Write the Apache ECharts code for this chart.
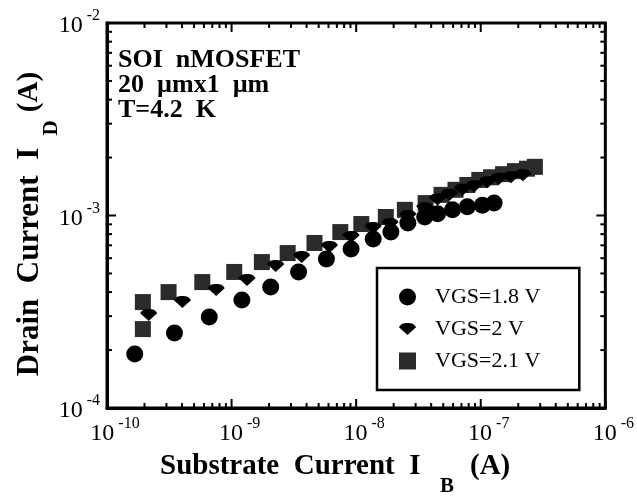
<!DOCTYPE html>
<html>
<head>
<meta charset="utf-8">
<script src="https://cdn.jsdelivr.net/npm/echarts@6/dist/echarts.min.js"></script>
<style>
  html, body { margin: 0; padding: 0; background: #fff; }
  #chart { width: 637px; height: 497px; }
</style>
</head>
<body>
<div id="chart"></div>
<script>
// VGS = 1.8 V (circles)
const ib18 = [1.67e-10, 3.48e-10, 6.62e-10, 1.21e-9, 2.06e-9, 3.45e-9, 5.77e-9, 9.1e-9, 1.37e-8, 1.90e-8, 2.60e-8, 3.55e-8, 4.5e-8, 5.93e-8, 7.8e-8, 1.03e-7, 1.28e-7];
const id18 = [1.91e-4, 2.45e-4, 2.97e-4, 3.64e-4, 4.25e-4, 5.09e-4, 5.94e-4, 6.70e-4, 7.55e-4, 8.20e-4, 9.14e-4, 9.82e-4, 1.02e-3, 1.07e-3, 1.11e-3, 1.13e-3, 1.16e-3];

// VGS = 2 V (diamonds)
const ib20 = [2.16e-10, 4.03e-10, 7.52e-10, 1.33e-9, 2.26e-9, 3.65e-9, 6.1e-9, 9.1e-9, 1.37e-8, 1.87e-8, 2.6e-8, 3.55e-8, 4.5e-8, 5.61e-8, 7.13e-8, 8.87e-8, 1.13e-7, 1.40e-7, 1.75e-7, 2.18e-7];
const id20 = [3.04e-4, 3.55e-4, 4.10e-4, 4.62e-4, 5.47e-4, 6.09e-4, 6.86e-4, 7.73e-4, 8.61e-4, 9.03e-4, 9.94e-4, 1.09e-3, 1.21e-3, 1.28e-3, 1.36e-3, 1.42e-3, 1.49e-3, 1.55e-3, 1.58e-3, 1.62e-3];

// VGS = 2.1 V (squares)
const ib21 = [1.94e-10, 1.94e-10, 3.12e-10, 5.82e-10, 1.05e-9, 1.75e-9, 2.82e-9, 4.63e-9, 7.46e-9, 1.10e-8, 1.73e-8, 2.46e-8, 3.61e-8, 4.84e-8, 6.27e-8, 7.8e-8, 9.73e-8, 1.21e-7, 1.51e-7, 1.88e-7, 2.35e-7, 2.72e-7];
const id21 = [3.55e-4, 2.57e-4, 4.00e-4, 4.51e-4, 5.09e-4, 5.73e-4, 6.38e-4, 7.20e-4, 8.20e-4, 9.03e-4, 9.82e-4, 1.07e-3, 1.16e-3, 1.28e-3, 1.36e-3, 1.44e-3, 1.53e-3, 1.58e-3, 1.64e-3, 1.70e-3, 1.75e-3, 1.79e-3];

const seriesNames = ["VGS=1.8 V", "VGS=2 V", "VGS=2.1 V"];

// axis decades (tick labels are 10^exp)
const xExp = [-10, -9, -8, -7, -6];
const yExp = [-4, -3, -2];
const minorMult = [2, 3, 4, 5, 6, 7, 8, 9];

const serif = "'Liberation Serif', 'DejaVu Serif', serif";
const diamond = "path://M0,5 C2,1 5,0 10,0 C15,0 18,1 20,5 L10,14 Z";

const pairs = (xs, ys) => xs.map((x, i) => [x, ys[i]]);

// tick marks drawn on all four sides: [x, y, kind, isMajor]
const tickData = [];
for (let i = 0; i < xExp.length; i++) {
  tickData.push([Math.pow(10, xExp[i]), 1e-4, 0, 1]);
  if (i < xExp.length - 1) {
    minorMult.forEach((m) => tickData.push([m * Math.pow(10, xExp[i]), 1e-4, 0, 0]));
  }
}
for (let i = 0; i < yExp.length; i++) {
  tickData.push([1e-10, Math.pow(10, yExp[i]), 1, 1]);
  if (i < yExp.length - 1) {
    minorMult.forEach((m) => tickData.push([1e-10, m * Math.pow(10, yExp[i]), 1, 0]));
  }
}

const expLabel = (v) => "{b|10}{s|" + Math.round(Math.log10(v)) + "}";
const labelRich = {
  b: { fontFamily: serif, fontSize: 24, color: "#000", lineHeight: 30, verticalAlign: "bottom" },
  s: { fontFamily: serif, fontSize: 16, color: "#000", lineHeight: 30, verticalAlign: "top", padding: [0, 0, 0, 4] },
};

const myChart = echarts.init(document.getElementById("chart"));

myChart.setOption({
  animation: false,
  backgroundColor: "#fff",
  grid: {
    left: 107,
    right: 28,
    top: 23,
    bottom: 89,
    show: true,
    borderColor: "#000",
    borderWidth: 3,
  },
  xAxis: {
    type: "log",
    logBase: 10,
    min: 1e-10,
    max: 1e-6,
    axisLine: { show: true, lineStyle: { color: "#000", width: 3 } },
    axisTick: { show: false },
    splitLine: { show: false },
    axisLabel: {
      margin: 8,
      padding: [0, 0, 0, 16],
      formatter: expLabel,
      rich: labelRich,
    },
  },
  yAxis: {
    type: "log",
    logBase: 10,
    min: 1e-4,
    max: 1e-2,
    axisLine: { show: true, lineStyle: { color: "#000", width: 3 } },
    axisTick: { show: false },
    splitLine: { show: false },
    axisLabel: {
      margin: 7,
      formatter: expLabel,
      rich: labelRich,
    },
  },
  legend: {
    orient: "vertical",
    left: 377,
    top: 268,
    padding: [18, 39, 18, 22],
    itemGap: 10,
    itemWidth: 17,
    itemHeight: 17,
    borderColor: "#000",
    borderWidth: 2.5,
    backgroundColor: "#fff",
    textStyle: { fontFamily: serif, fontSize: 22, color: "#000", padding: [0, 0, 0, 14] },
    data: seriesNames,
  },
  graphic: [
    {
      type: "text",
      left: 118,
      top: 47,
      style: {
        text: "SOI  nMOSFET\n20  µmx1  µm\nT=4.2  K",
        font: "bold 26px " + serif,
        lineHeight: 25,
        fill: "#000",
      },
    },
    {
      type: "text",
      x: 160,
      y: 467,
      style: { text: "Substrate  Current  I", font: "bold 29px " + serif, fill: "#000", align: "left", verticalAlign: "middle" },
    },
    {
      type: "text",
      x: 447,
      y: 487,
      style: { text: "B", font: "bold 21px " + serif, fill: "#000", align: "center", verticalAlign: "middle" },
    },
    {
      type: "text",
      x: 470,
      y: 467,
      style: { text: "(A)", font: "bold 29px " + serif, fill: "#000", align: "left", verticalAlign: "middle" },
    },
    {
      type: "text",
      x: 30,
      y: 262,
      rotation: Math.PI / 2,
      style: { text: "Drain  Current  I", font: "bold 31px " + serif, fill: "#000", align: "center", verticalAlign: "middle" },
    },
    {
      type: "text",
      x: 52,
      y: 128,
      rotation: Math.PI / 2,
      style: { text: "D", font: "bold 21px " + serif, fill: "#000", align: "center", verticalAlign: "middle" },
    },
    {
      type: "text",
      x: 30,
      y: 92,
      rotation: Math.PI / 2,
      style: { text: "(A)", font: "bold 29px " + serif, fill: "#000", align: "center", verticalAlign: "middle" },
    },
  ],
  series: [
    {
      name: seriesNames[2],
      type: "scatter",
      symbol: "rect",
      symbolSize: 16,
      itemStyle: { color: "#2b2b2b", opacity: 1 },
      data: pairs(ib21, id21),
      z: 3,
    },
    {
      name: seriesNames[1],
      type: "scatter",
      symbol: diamond,
      symbolSize: [17, 12],
      itemStyle: { color: "#000", opacity: 1 },
      data: pairs(ib20, id20),
      z: 4,
    },
    {
      name: seriesNames[0],
      type: "scatter",
      symbol: "circle",
      symbolSize: 17,
      itemStyle: { color: "#000", opacity: 1 },
      data: pairs(ib18, id18),
      z: 5,
    },
    {
      // tick marks on every side of the frame
      type: "custom",
      silent: true,
      clip: false,
      z: 10,
      data: tickData,
      renderItem: function (params, api) {
        const kind = api.value(2);
        const len = api.value(3) ? 9 : 5;
        const style = { stroke: "#000", lineWidth: 2 };
        if (kind === 0) {
          const v = api.value(0);
          const a = api.coord([v, 1e-4]);
          const b = api.coord([v, 1e-2]);
          return {
            type: "group",
            children: [
              { type: "line", shape: { x1: a[0], y1: a[1], x2: a[0], y2: a[1] - len }, style: style },
              { type: "line", shape: { x1: b[0], y1: b[1], x2: b[0], y2: b[1] + len }, style: style },
            ],
          };
        }
        const v = api.value(1);
        const a = api.coord([1e-10, v]);
        const b = api.coord([1e-6, v]);
        return {
          type: "group",
          children: [
            { type: "line", shape: { x1: a[0], y1: a[1], x2: a[0] + len, y2: a[1] }, style: style },
            { type: "line", shape: { x1: b[0], y1: b[1], x2: b[0] - len, y2: b[1] }, style: style },
          ],
        };
      },
    },
  ],
});
</script>
</body>
</html>
